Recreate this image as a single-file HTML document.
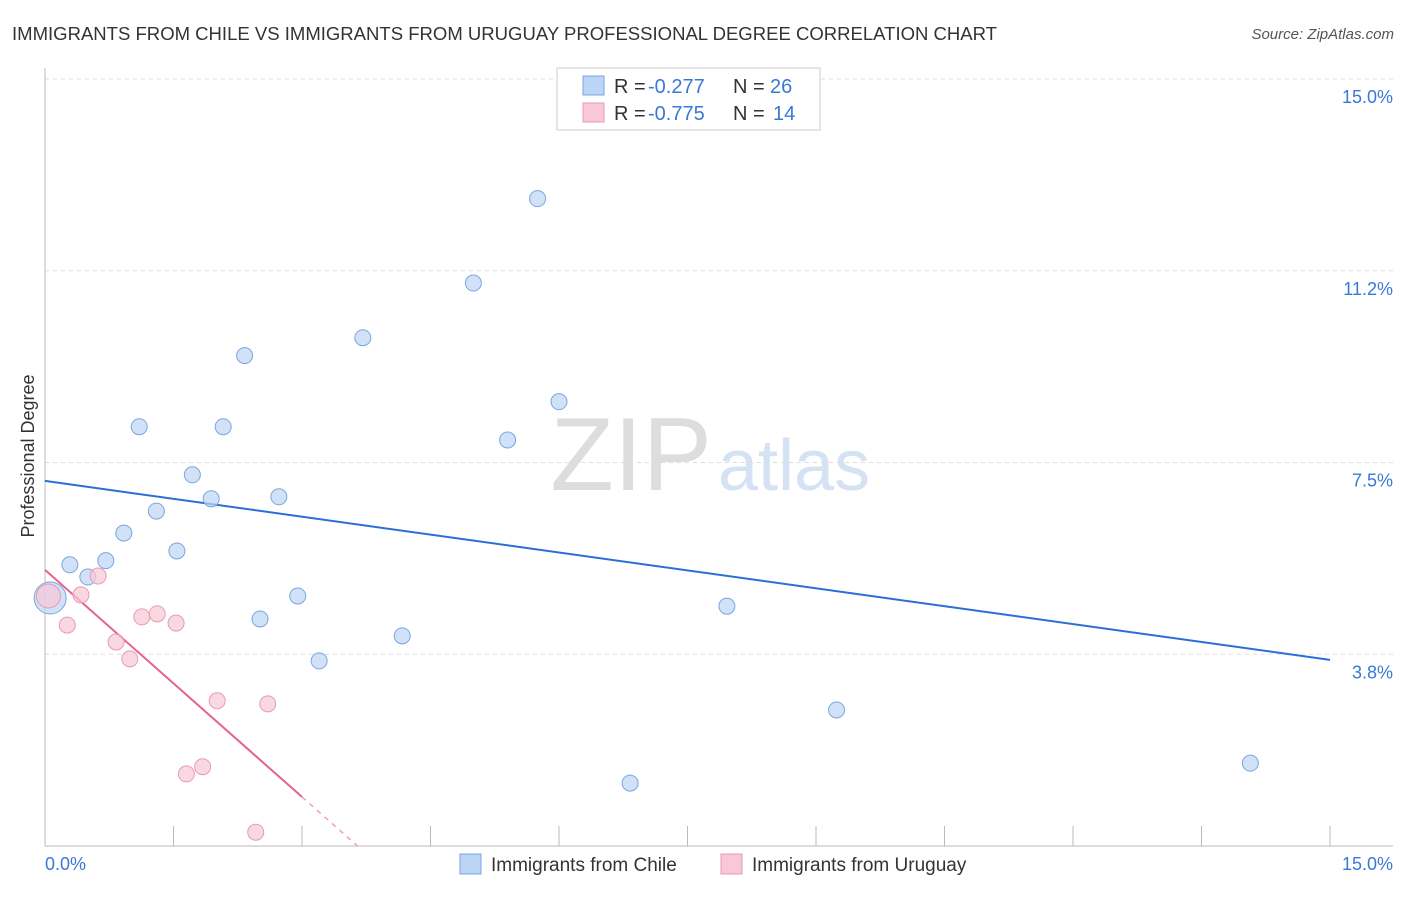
<!DOCTYPE html>
<html><head><meta charset="utf-8"><style>
body{margin:0;background:#fff;font-family:"Liberation Sans",sans-serif;}
svg text{font-family:"Liberation Sans",sans-serif;}
</style></head><body>
<svg id="chart" width="1406" height="892" xmlns="http://www.w3.org/2000/svg">
<text x="12" y="40" font-size="18.5" fill="#333" textLength="985" lengthAdjust="spacingAndGlyphs">IMMIGRANTS FROM CHILE VS IMMIGRANTS FROM URUGUAY PROFESSIONAL DEGREE CORRELATION CHART</text>
<text x="1394" y="39" font-size="15" fill="#555" text-anchor="end" font-style="italic">Source: ZipAtlas.com</text>
<text x="34" y="456" font-size="18" fill="#333" text-anchor="middle" transform="rotate(-90 34 456)">Professional Degree</text>
<text x="712" y="490" font-size="104" fill="#ddd" text-anchor="end" font-family="Liberation Serif">ZIP</text>
<text x="718" y="490" font-size="72" fill="#d4e2f4">atlas</text>
<g id="grid"></g><g id="axes"></g><g id="lines"></g><g id="pts"></g>
<g>
<rect x="557" y="68" width="263" height="62" fill="#fff" stroke="#ccc"/>
<rect x="583" y="76" width="21" height="19" fill="#bcd4f5" stroke="#7aa6e0"/>
<text x="614" y="93" font-size="20" fill="#333">R = </text><text x="648" y="93" font-size="20" fill="#3a78d8">-0.277</text>
<text x="733" y="93" font-size="20" fill="#333">N = </text><text x="770" y="93" font-size="20" fill="#3a78d8">26</text>
<rect x="583" y="103" width="21" height="19" fill="#f8c8d6" stroke="#e89ab2"/>
<text x="614" y="120" font-size="20" fill="#333">R = </text><text x="648" y="120" font-size="20" fill="#3a78d8">-0.775</text>
<text x="733" y="120" font-size="20" fill="#333">N = </text><text x="773" y="120" font-size="20" fill="#3a78d8">14</text>
</g>
<g>
<rect x="460" y="854" width="21" height="20" fill="#bcd4f5" stroke="#7aa6e0"/>
<text x="491" y="871" font-size="19" fill="#333">Immigrants from Chile</text>
<rect x="721" y="854" width="21" height="20" fill="#f8c8d6" stroke="#e89ab2"/>
<text x="752" y="871" font-size="19" fill="#333">Immigrants from Uruguay</text>
</g>
</svg>
<script>
const yTicks=[3.75,7.5,11.25,15];
const yTickLabels=["3.8%","7.5%","11.2%","15.0%"];
const xTickLabels=["0.0%","15.0%"];
const chileX=[0.06,0.29,0.50,0.71,0.92,1.10,1.30,1.54,1.72,1.94,2.08,2.33,2.51,2.73,2.95,3.20,3.71,4.17,5.00,5.40,5.75,6.00,6.83,7.96,9.24,14.07];
const chileY=[4.85,5.50,5.26,5.58,6.12,8.20,6.55,5.77,7.26,6.79,8.20,9.59,4.44,6.83,4.89,3.62,9.94,4.11,11.01,7.94,12.66,8.69,1.23,4.69,2.66,1.62];
const uruX=[0.04,0.26,0.42,0.62,0.83,0.99,1.13,1.31,1.53,1.65,1.84,2.01,2.46,2.60];
const uruY=[4.89,4.32,4.91,5.28,3.99,3.66,4.48,4.54,4.36,1.41,1.55,2.84,0.27,2.78];
const chileTrend=[7.14,3.64];
const uruTrend=[5.40,0.96];
const X=v=>45+v/15*1285, Y=v=>846-v/15*767;
const NS="http://www.w3.org/2000/svg";
function mk(tag,attrs,parent){const e=document.createElementNS(NS,tag);for(const k in attrs)e.setAttribute(k,attrs[k]);document.getElementById(parent).appendChild(e);return e;}
yTicks.forEach((t,i)=>{
 const g=mk('line',{x1:45,x2:1393,y1:Y(t),y2:Y(t),stroke:'#ddd','stroke-dasharray':'4,4'},'grid');
 
 
 const l=mk('text',{x:1393,y:Y(t)+24,'font-size':18,fill:'#3a78d8','text-anchor':'end'},'grid');l.textContent=yTickLabels[i];
 
 
});
const ax=mk('line',{x1:45,x2:45,y1:68,y2:846,stroke:'#bbb'},'axes');


const bx=mk('line',{x1:45,x2:1393,y1:846,y2:846,stroke:'#bbb'},'axes');


for(let i=0;i<=10;i++){const t=mk('line',{x1:X(i*1.5),x2:X(i*1.5),y1:826,y2:846,stroke:'#bbb'},'axes');
 
 }
[[0,'start',45],[15,'end',1393]].forEach((a,i)=>{const t=mk('text',{x:a[2],y:870,'font-size':18,fill:'#3a78d8','text-anchor':a[1]},'axes');t.textContent=xTickLabels[i];
 
 });
const bl=mk('line',{x1:X(0),y1:Y(chileTrend[0]),x2:X(15),y2:Y(chileTrend[1]),stroke:'#2a6fd6','stroke-width':2},'lines');


const ps=(uruTrend[1]-uruTrend[0])/3, u=v=>uruTrend[0]+ps*v;
const pl=mk('line',{x1:X(0),y1:Y(u(0)),x2:X(3),y2:Y(u(3)),stroke:'#e8628f','stroke-width':2},'lines');


const xe=-uruTrend[0]/ps;
const pd=mk('line',{x1:X(3),y1:Y(u(3)),x2:X(xe),y2:Y(0),stroke:'#f0a0b8','stroke-width':1.5,'stroke-dasharray':'5,5'},'lines');


chileX.forEach((x,i)=>{const c=mk('circle',{cx:X(x),cy:Y(chileY[i]),r:i==0?16:8,fill:'#bcd4f5','fill-opacity':0.7,stroke:'#7aa6e0'},'pts');
 
 });
uruX.forEach((x,i)=>{const c=mk('circle',{cx:X(x),cy:Y(uruY[i]),r:i==0?12:8,fill:'#f8c8d6','fill-opacity':0.7,stroke:'#e89ab2'},'pts');
 
 });
</script>
</body></html>
